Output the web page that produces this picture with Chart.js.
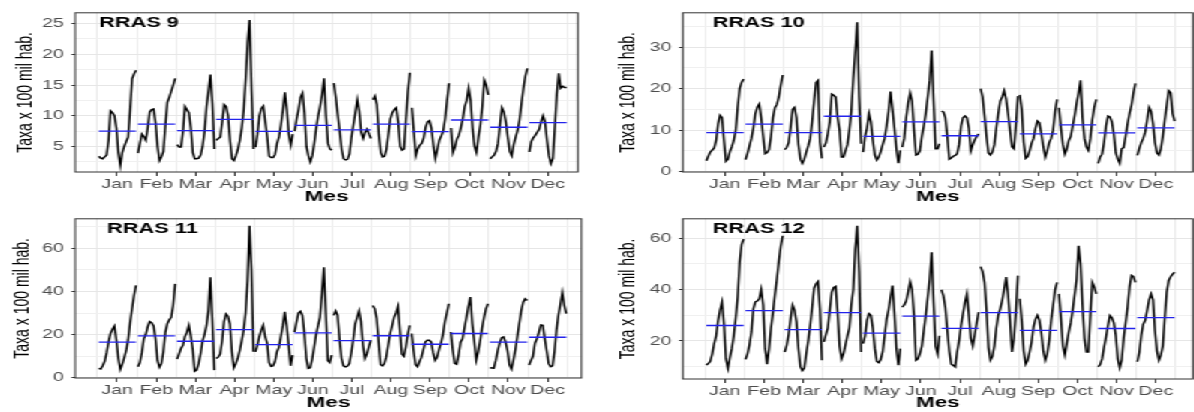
<!DOCTYPE html>
<html>
<head>
<meta charset="utf-8">
<script src="https://cdn.jsdelivr.net/npm/chart.js"></script>
<style>
  body { margin: 0; background: #fff; overflow: hidden; }
  /* a figura original e mais larga que alta: esticamos tudo na horizontal */
  #painel { position: absolute; left: 0; top: 0; width: 796px; height: 412px;
            transform: scaleX(1.5); transform-origin: 0 0; }
  #painel canvas { position: absolute; width: 398px; height: 206px; }
</style>
</head>
<body>
<div id="painel">
  <canvas id="g9"  width="398" height="206" style="left:0;top:0"></canvas>
  <canvas id="g10" width="398" height="206" style="left:398px;top:0"></canvas>
  <canvas id="g11" width="398" height="206" style="left:0;top:206px"></canvas>
  <canvas id="g12" width="398" height="206" style="left:398px;top:206px"></canvas>
</div>
<script>
// rotulos do eixo x
const meses = ['Jan', 'Feb', 'Mar', 'Apr', 'May', 'Jun', 'Jul', 'Aug', 'Sep', 'Oct', 'Nov', 'Dec'];

// taxa x 100 mil hab., uma linha por mes, um valor por ano
const rras9 = [
  [3.4, 3.1, 3.0, 3.3, 3.6, 6.0, 10.8, 10.5, 10.0, 8.0, 4.0, 1.9, 4.0, 5.0, 5.8, 6.5, 11.0, 16.0, 16.8, 17.4],
  [3.9, 5.5, 7.0, 6.6, 6.0, 8.0, 10.6, 11.0, 11.1, 8.8, 5.0, 2.7, 3.3, 4.2, 8.5, 12.2, 13.0, 14.0, 15.0, 16.1],
  [5.3, 4.9, 4.9, 7.5, 11.5, 11.0, 10.5, 8.0, 4.0, 3.0, 3.0, 3.1, 3.6, 5.0, 7.5, 11.5, 14.0, 16.7, 12.0, 4.6],
  [6.0, 6.3, 6.5, 9.0, 11.8, 11.5, 10.0, 6.0, 3.0, 2.7, 3.5, 4.5, 6.0, 8.0, 11.0, 16.0, 22.0, 25.6, 14.0, 4.6],
  [4.9, 7.0, 10.0, 11.2, 11.6, 9.0, 6.5, 3.4, 3.2, 3.2, 3.7, 5.5, 6.5, 8.5, 11.0, 13.8, 11.0, 7.0, 5.2, 7.0],
  [7.5, 9.5, 11.0, 13.0, 13.7, 10.5, 5.0, 3.5, 2.5, 3.5, 5.5, 8.0, 10.0, 11.5, 13.5, 16.1, 10.0, 5.5, 4.6, 4.4],
  [15.3, 13.0, 10.2, 7.5, 4.5, 3.0, 2.8, 2.9, 3.8, 6.5, 8.5, 10.5, 12.6, 10.8, 7.3, 6.3, 7.3, 7.8, 7.0, 6.3],
  [12.6, 13.2, 11.8, 7.0, 4.0, 3.3, 3.4, 4.5, 7.0, 9.5, 10.5, 11.0, 11.3, 9.0, 5.0, 4.4, 4.6, 9.5, 14.0, 17.0],
  [11.3, 7.5, 3.5, 4.6, 5.2, 5.5, 6.3, 8.1, 9.0, 9.2, 8.0, 5.2, 3.0, 4.5, 6.0, 6.7, 7.5, 9.5, 12.5, 15.3],
  [8.0, 4.0, 4.9, 6.2, 6.8, 8.0, 9.5, 11.5, 12.5, 14.5, 12.5, 8.0, 5.0, 4.0, 6.5, 8.5, 11.5, 15.8, 15.0, 13.4],
  [3.0, 3.3, 3.6, 4.2, 5.5, 8.5, 11.3, 10.6, 9.0, 6.5, 4.2, 3.5, 5.3, 6.5, 7.6, 9.3, 12.0, 14.5, 16.5, 17.7],
  [4.1, 5.8, 6.4, 6.8, 7.3, 7.8, 9.0, 10.0, 9.0, 6.0, 3.5, 2.2, 3.0, 8.0, 13.5, 16.9, 14.5, 14.8, 14.6, 14.6]
];

const rras10 = [
  [2.6, 3.7, 4.7, 5.2, 5.7, 7.5, 11.5, 13.6, 13.0, 7.5, 2.5, 3.0, 4.8, 6.0, 7.5, 10.0, 15.5, 20.0, 21.5, 22.3],
  [2.9, 4.4, 6.2, 8.0, 10.5, 14.0, 15.5, 16.3, 13.0, 8.5, 4.3, 4.6, 5.3, 8.5, 13.0, 15.4, 16.2, 18.0, 20.9, 23.3],
  [5.3, 5.8, 7.0, 10.5, 15.0, 15.5, 13.0, 6.5, 3.0, 2.0, 3.0, 4.7, 6.2, 8.0, 12.0, 17.0, 21.5, 22.0, 7.0, 3.2],
  [5.9, 6.9, 9.1, 12.0, 18.7, 18.4, 18.0, 13.0, 10.0, 3.5, 3.5, 5.0, 6.5, 10.0, 14.5, 22.5, 28.8, 36.0, 18.0, 6.7],
  [4.7, 8.5, 10.5, 14.0, 12.0, 7.5, 4.0, 2.8, 3.5, 4.8, 6.5, 8.0, 11.0, 14.5, 19.3, 15.0, 10.5, 5.5, 2.0, 5.1],
  [5.9, 8.0, 13.0, 16.5, 19.0, 17.0, 10.0, 4.0, 4.2, 5.0, 8.5, 11.0, 14.0, 18.0, 22.0, 29.2, 17.0, 5.5, 5.5, 6.7],
  [14.6, 14.4, 13.0, 8.5, 3.0, 3.3, 3.7, 3.9, 4.3, 6.5, 11.0, 13.0, 13.4, 13.0, 10.5, 5.0, 6.5, 7.6, 8.5, 9.1],
  [20.0, 18.0, 13.5, 8.5, 4.5, 4.0, 4.7, 6.5, 10.5, 14.0, 17.0, 18.0, 19.5, 17.5, 14.0, 10.0, 6.0, 5.5, 11.0, 18.2],
  [18.5, 15.0, 7.0, 3.2, 3.6, 5.0, 6.8, 8.0, 10.5, 12.2, 11.8, 9.1, 6.0, 3.5, 5.0, 7.0, 8.0, 10.0, 14.5, 17.4],
  [15.4, 10.5, 6.5, 4.2, 5.5, 7.5, 8.5, 11.0, 13.5, 16.5, 19.0, 22.0, 13.0, 8.0, 5.9, 5.1, 8.0, 12.5, 15.5, 17.4],
  [2.0, 3.5, 4.2, 7.0, 11.0, 13.4, 13.2, 12.0, 9.0, 4.5, 3.0, 2.0, 5.5, 5.8, 8.5, 11.5, 14.0, 16.0, 19.0, 21.3],
  [3.9, 5.6, 7.0, 8.0, 9.5, 12.5, 15.5, 14.5, 11.5, 7.0, 4.5, 4.0, 5.5, 8.5, 12.5, 16.0, 19.5, 19.0, 14.0, 12.2]
];

const rras11 = [
  [4.3, 4.0, 5.5, 7.5, 11.5, 16.5, 20.5, 22.5, 24.0, 17.5, 9.0, 3.8, 6.2, 9.2, 12.5, 17.5, 25.5, 32.0, 38.0, 42.8],
  [5.1, 7.0, 11.5, 18.0, 20.0, 23.5, 26.0, 25.5, 24.0, 18.0, 8.0, 4.8, 6.5, 12.0, 21.0, 25.0, 26.8, 28.0, 33.5, 43.5],
  [8.6, 11.0, 13.5, 15.0, 19.0, 21.0, 24.3, 19.5, 13.0, 3.0, 3.5, 6.5, 11.0, 17.0, 20.0, 24.0, 31.0, 46.6, 27.0, 3.5],
  [8.9, 9.5, 11.0, 17.0, 26.0, 29.5, 28.5, 25.0, 12.0, 4.6, 6.5, 9.0, 12.5, 17.0, 22.0, 30.0, 45.0, 70.5, 50.0, 12.0],
  [12.0, 15.0, 19.0, 22.0, 24.3, 19.0, 16.0, 7.0, 5.3, 5.5, 7.4, 12.0, 14.0, 19.0, 24.0, 30.5, 24.0, 15.0, 5.5, 10.5],
  [21.2, 25.8, 30.0, 30.8, 29.0, 21.0, 9.0, 4.3, 4.6, 8.5, 14.0, 20.0, 24.0, 28.0, 39.0, 51.2, 30.0, 8.0, 7.0, 10.5],
  [28.9, 31.0, 29.0, 18.0, 9.0, 5.5, 5.0, 5.3, 6.5, 11.5, 17.5, 25.0, 28.0, 31.0, 26.0, 15.0, 8.9, 11.0, 14.3, 17.4],
  [33.5, 32.0, 27.5, 16.5, 6.0, 5.5, 6.5, 9.5, 15.0, 20.5, 24.0, 28.0, 30.0, 33.0, 22.0, 11.0, 10.0, 14.0, 20.0, 24.3],
  [20.5, 12.5, 6.0, 5.1, 7.4, 9.5, 13.0, 16.5, 17.4, 17.4, 16.5, 11.5, 8.0, 9.5, 13.0, 16.0, 20.0, 26.0, 30.0, 34.3],
  [21.2, 13.0, 6.6, 6.2, 10.5, 16.5, 18.0, 23.0, 28.0, 33.0, 37.4, 25.0, 17.0, 8.2, 12.0, 17.0, 23.0, 28.0, 32.0, 34.3],
  [4.6, 4.5, 4.4, 8.0, 12.5, 16.0, 18.5, 18.9, 16.5, 12.5, 6.0, 4.0, 8.0, 13.0, 19.0, 25.0, 31.0, 35.0, 36.6, 35.8],
  [5.8, 8.0, 10.0, 16.0, 18.0, 21.0, 24.5, 24.3, 18.2, 12.5, 6.5, 5.1, 5.5, 12.0, 22.0, 29.0, 34.0, 39.4, 33.5, 29.7]
];

const rras12 = [
  [10.6, 11.2, 12.1, 15.0, 19.0, 22.0, 28.0, 32.0, 35.1, 26.5, 13.0, 9.3, 13.5, 17.0, 22.0, 29.0, 37.0, 50.6, 57.5, 59.6],
  [12.8, 15.0, 18.5, 23.5, 32.5, 35.2, 35.5, 36.4, 40.0, 34.0, 17.0, 11.0, 17.0, 25.0, 31.0, 38.0, 44.0, 51.0, 57.0, 60.9],
  [15.7, 18.3, 22.5, 28.6, 34.0, 32.0, 27.4, 17.0, 10.0, 8.5, 9.5, 15.0, 20.0, 26.0, 33.0, 40.5, 42.2, 43.1, 32.0, 12.5],
  [19.6, 22.5, 25.0, 32.0, 39.0, 40.8, 41.2, 31.0, 18.0, 13.0, 15.0, 18.5, 22.0, 25.0, 34.0, 40.0, 55.7, 64.8, 47.0, 15.7],
  [19.0, 22.0, 28.0, 30.6, 30.0, 25.0, 17.0, 12.0, 11.5, 12.8, 15.7, 22.0, 28.5, 32.0, 37.0, 41.5, 31.0, 17.0, 10.6, 17.0],
  [33.1, 34.0, 35.5, 39.0, 43.0, 40.0, 30.0, 12.5, 13.0, 15.0, 18.0, 24.0, 30.0, 37.0, 44.0, 54.5, 35.0, 18.0, 15.0, 22.0],
  [39.9, 37.5, 33.0, 24.0, 16.0, 11.0, 10.5, 9.9, 15.7, 20.0, 26.0, 30.5, 35.0, 38.3, 30.0, 21.0, 18.0, 22.5, 27.0, 31.2],
  [48.9, 47.0, 42.8, 32.0, 17.5, 12.5, 14.0, 18.0, 25.0, 30.0, 32.5, 35.7, 40.0, 44.8, 38.0, 28.0, 15.7, 21.0, 31.0, 45.4],
  [36.4, 28.0, 16.0, 11.0, 12.5, 15.7, 19.5, 25.5, 28.5, 30.0, 28.0, 23.0, 16.0, 12.5, 15.0, 20.0, 28.0, 33.8, 40.0, 42.8],
  [38.3, 29.0, 18.0, 14.5, 19.0, 23.5, 27.0, 32.0, 38.0, 44.0, 57.0, 50.0, 34.0, 21.0, 15.7, 15.7, 30.0, 42.8, 41.0, 38.3],
  [9.9, 10.8, 13.0, 17.5, 21.5, 26.0, 29.9, 29.0, 27.0, 22.0, 13.0, 9.5, 12.5, 21.0, 27.0, 33.0, 41.0, 45.5, 45.0, 42.8],
  [11.9, 15.5, 22.2, 26.5, 28.0, 32.0, 36.0, 38.3, 36.0, 24.0, 16.0, 12.5, 14.5, 18.0, 29.0, 39.0, 43.5, 45.0, 46.0, 46.7]
];

// marcas do eixo y (com rotulo) e linhas de grade secundarias
const ticksY9 = [5, 10, 15, 20, 25];
const gradeY9 = [2.5, 7.5, 12.5, 17.5, 22.5];
const ticksY10 = [0, 10, 20, 30];
const gradeY10 = [5, 15, 25, 35];
const ticksY11 = [0, 20, 40, 60];
const gradeY11 = [10, 30, 50, 70];
const ticksY12 = [20, 40, 60];
const gradeY12 = [10, 30, 50];

const fonte = "'Liberation Sans', Arial, sans-serif";

// moldura do painel e nome da regiao no canto
const moldura = {
  id: 'moldura',
  afterDatasetsDraw(chart, args, opts) {
    const ctx = chart.ctx, a = chart.chartArea;
    ctx.save();
    ctx.strokeStyle = '#333';
    ctx.lineWidth = 1;
    ctx.strokeRect(a.left, a.top, a.right - a.left, a.bottom - a.top);
    ctx.font = 'bold 14.5px ' + fonte;
    ctx.fillStyle = '#000';
    ctx.textBaseline = 'middle';
    ctx.fillText(opts.texto, a.left + opts.dx, a.top + 10);
    ctx.restore();
  }
};

function desenha(id, nome, dados, ticksY, gradeY, cfg) {
  const medias = [];
  const series = [];
  dados.forEach(function(serie, m) {
    const ini = m + 1 - 0.47, passo = 0.95 / (serie.length - 1);
    series.push({
      data: serie.map(function(v, i) { return {x: ini + i * passo, y: v}; }),
      borderColor: '#000', borderWidth: 1.45, pointRadius: 0
    });
    const media = serie.reduce(function(a, b) { return a + b; }, 0) / serie.length;
    medias.push({
      data: [{x: ini, y: media}, {x: m + 1 + 0.48, y: media}],
      borderColor: 'rgb(35,35,235)', borderWidth: 1.3, pointRadius: 0
    });
  });

  // marcas no centro de cada mes, grade nas divisas
  const posX = [];
  meses.forEach(function(_, i) { posX.push(i + 0.5, i + 1); });
  posX.push(12.5);
  const posY = ticksY.concat(gradeY).sort(function(a, b) { return a - b; });

  new Chart(document.getElementById(id), {
    type: 'line',
    data: { datasets: medias.concat(series) },
    plugins: [moldura],
    options: {
      responsive: false,
      animation: false,
      layout: { padding: { left: 0, right: cfg.dir, top: cfg.topo, bottom: 0 } },
      plugins: {
        legend: { display: false },
        tooltip: { enabled: false },
        moldura: { texto: nome, dx: cfg.dx }
      },
      scales: {
        x: {
          type: 'linear', min: cfg.xmin, max: cfg.xmax, bounds: 'data',
          afterBuildTicks: function(s) { s.ticks = posX.map(function(v) { return {value: v}; }); },
          afterFit: function(s) { s.height = 206 - cfg.base; },
          border: { display: false },
          grid: {
            color: function(c) { return Number.isInteger(c.tick.value) ? 'rgba(0,0,0,0)' : '#ebebeb'; },
            tickColor: function(c) { return Number.isInteger(c.tick.value) ? '#333' : 'rgba(0,0,0,0)'; },
            tickLength: 4
          },
          ticks: {
            autoSkip: false, maxRotation: 0, minRotation: 0, padding: 1,
            color: '#4d4d4d', font: { family: fonte, size: 13 },
            callback: function(v) { return Number.isInteger(v) ? meses[v - 1] : ''; }
          },
          title: {
            display: true, text: 'Mes', color: '#000',
            font: { family: fonte, size: 15, weight: 'bold' }, padding: { top: 0, bottom: 0 }
          }
        },
        y: {
          min: cfg.ymin, max: cfg.ymax,
          afterBuildTicks: function(s) { s.ticks = posY.map(function(v) { return {value: v}; }); },
          afterFit: function(s) { s.width = cfg.esq; },
          border: { display: false },
          grid: {
            color: function(c) { return ticksY.includes(c.tick.value) ? '#e6e6e6' : '#f0f0f0'; },
            tickColor: function(c) { return ticksY.includes(c.tick.value) ? '#333' : 'rgba(0,0,0,0)'; },
            tickLength: 2.5
          },
          ticks: {
            autoSkip: false, padding: 5, color: '#4d4d4d', font: { family: fonte, size: 13 },
            callback: function(v) { return ticksY.includes(v) ? String(v) : ''; }
          },
          title: {
            display: true, text: 'Taxa x 100 mil hab.', color: '#000',
            font: { family: fonte, size: 14 }, padding: { top: cfg.padTitulo, bottom: 0 }
          }
        }
      }
    }
  });
}

desenha('g9', 'RRAS 9', rras9, ticksY9, gradeY9,
  { xmin: -0.072, xmax: 12.766, ymin: 0.84, ymax: 26.76, esq: 50, dir: 12.7, topo: 10, base: 172, padTitulo: 8.3, dx: 16 });
desenha('g10', 'RRAS 10', rras10, ticksY10, gradeY10,
  { xmin: -0.072, xmax: 12.944, ymin: -0.1, ymax: 38.3, esq: 57.3, dir: 0.7, topo: 10, base: 172, padTitulo: 12.3, dx: 20 });
desenha('g11', 'RRAS 11', rras11, ticksY11, gradeY11,
  { xmin: -0.072, xmax: 12.87, ymin: -0.15, ymax: 73.7, esq: 50, dir: 10.2, topo: 12, base: 172, padTitulo: 6.9, dx: 21.3 });
desenha('g12', 'RRAS 12', rras12, ticksY12, gradeY12,
  { xmin: -0.072, xmax: 12.944, ymin: 5.2, ymax: 67.5, esq: 57.3, dir: 0.7, topo: 12, base: 173, padTitulo: 12.3, dx: 20 });
</script>
</body>
</html>
